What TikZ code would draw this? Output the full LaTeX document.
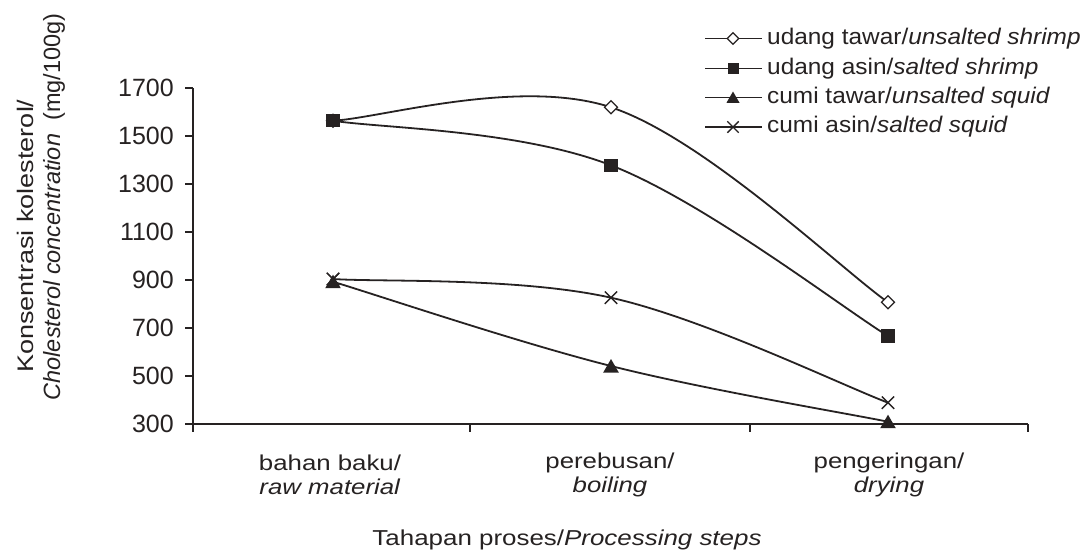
\documentclass[tikz,border=0pt]{standalone}
\usepackage{fontspec}
\setmainfont{Liberation Sans}
\newfontfamily\widefont{Liberation Sans}[FakeStretch=1.2]
\newfontfamily\midfont{Liberation Sans}[FakeStretch=1.08]
\usetikzlibrary{calc,shapes.geometric,shapes.misc}
\definecolor{ink}{HTML}{262222}
\tikzset{
  curve/.style={draw=ink, line width=1.8pt},
  axisline/.style={draw=ink, line width=1.8pt},
  lbl/.style={text=ink, inner sep=0pt},
  ticklbl/.style={lbl, font=\fontsize{25}{26}\selectfont},
  leglbl/.style={lbl, font=\midfont\fontsize{22.6}{24}\selectfont},
  catlbl/.style={lbl, align=center, font=\widefont\fontsize{21.5}{24}\selectfont},
  titlelbl/.style={lbl, font=\widefont\fontsize{21.6}{24}\selectfont},
  ylbl/.style={lbl, font=\widefont\fontsize{22.5}{24}\selectfont},
  mdia/.style={draw=ink, fill=white, diamond, minimum size=13.5pt, inner sep=0pt, line width=1.2pt},
  msq/.style={fill=ink, rectangle, minimum size=13.5pt, inner sep=0pt},
  mtri/.style={fill=ink, regular polygon, regular polygon sides=3, minimum size=18pt, inner sep=0pt},
  mcross/.style={draw=ink, cross out, minimum size=11pt, inner sep=0pt, line width=1.4pt},
}
\newcommand{\smooththree}[3]{(#1) .. controls ($(#1)!0.1667!(#2)$) and ($(#2)+0.1667*(#1)-0.1667*(#3)$) .. (#2) .. controls ($(#2)+0.1667*(#3)-0.1667*(#1)$) and ($(#3)!0.1667!(#2)$) .. (#3)}
\begin{document}
\begin{tikzpicture}[x=1pt,y=-1pt]
\useasboundingbox[fill=white] (0,0) rectangle (1087,555);
% axes
\coordinate (ytop) at (193,88);
\coordinate (orig) at (193,424);
\coordinate (ybot) at (193,432);
\coordinate (xend) at (1028,424);
\draw[axisline] (ytop) -- (ybot);
\draw[axisline] (orig) -- (xend);
\foreach \v in {300,500,...,1700}{
  \coordinate (yt\v) at (193,{424-(\v-300)*0.24});
  \draw[axisline] (yt\v) -- ++(-8,0);
  \node[ticklbl, anchor=east] (ylab\v) at ($(yt\v)+(-19,0)$) {\v};
}
\foreach \x/\n in {470/a,750/b,1028/c}{
  \coordinate (xt\n) at (\x,424);
  \draw[axisline] (xt\n) -- ++(0,8);
}
% data points
\coordinate (s1a) at (333,120.7); \coordinate (s1b) at (611,107.3); \coordinate (s1c) at (888,302.3);
\coordinate (s2a) at (333,120.7); \coordinate (s2b) at (611,165.3); \coordinate (s2c) at (888,336);
\coordinate (s3a) at (333,281.7); \coordinate (s3b) at (611,366);   \coordinate (s3c) at (888,421.7);
\coordinate (s4a) at (333,279);   \coordinate (s4b) at (611,297.7); \coordinate (s4c) at (888,402.7);
\draw[curve] \smooththree{s1a}{s1b}{s1c};
\draw[curve] \smooththree{s2a}{s2b}{s2c};
\draw[curve] \smooththree{s3a}{s3b}{s3c};
\draw[curve] \smooththree{s4a}{s4b}{s4c};
% markers
\foreach \p in {a,b,c}{
  \node[mdia] (m1\p) at (s1\p) {};
  \node[mcross] (m4\p) at (s4\p) {};
}
\foreach \p in {a,b,c}{
  \node[msq] (m2\p) at (s2\p) {};
  \node[mtri, yshift=-2pt] (m3\p) at (s3\p) {};
}
\node[mcross] (m4x) at (s4a) {};
% legend
\foreach \i/\yy in {1/38.5,2/68.5,3/97.5,4/127}{
  \coordinate (la\i) at (705,\yy);
  \coordinate (lb\i) at (762,\yy);
  \coordinate (lm\i) at (733,\yy);
  \draw[curve] (la\i) -- (lb\i);
}
\node[mdia, minimum size=12pt] (lg1) at (lm1) {};
\node[msq, minimum size=11pt] (lg2) at (lm2) {};
\node[mtri, minimum size=15pt, yshift=-1.5pt] (lg3) at (lm3) {};
\node[mcross, minimum size=10pt] (lg4) at (lm4) {};
\node[leglbl, anchor=west] (lt1) at ($(lb1)+(5,0)$) {udang tawar/\textit{unsalted shrimp}};
\node[leglbl, anchor=west] (lt2) at ($(lb2)+(5,0)$) {udang asin/\textit{salted shrimp}};
\node[leglbl, anchor=west] (lt3) at ($(lb3)+(5,0)$) {cumi tawar/\textit{unsalted squid}};
\node[leglbl, anchor=west] (lt4) at ($(lb4)+(5,0)$) {cumi asin/\textit{salted squid}};
% category labels
\node[catlbl] (c1) at (330,475) {bahan baku/\\\textit{raw material}};
\node[catlbl] (c2) at (610,475) {perebusan/\\\textit{boiling}};
\node[catlbl] (c3) at (889,475) {pengeringan/\\\textit{drying}};
\node[titlelbl] (xtitle) at (567,540) {Tahapan proses/\textit{Processing steps}};
% y title
\node[ylbl, rotate=90] (yt1) at (25,236) {Konsentrasi kolesterol/};
\node[lbl, font=\fontsize{23.5}{24}\selectfont, rotate=90] (yt2) at (54,207) {\textit{Cholesterol concentration}\ \ (mg/100g)};
\end{tikzpicture}
\end{document}
